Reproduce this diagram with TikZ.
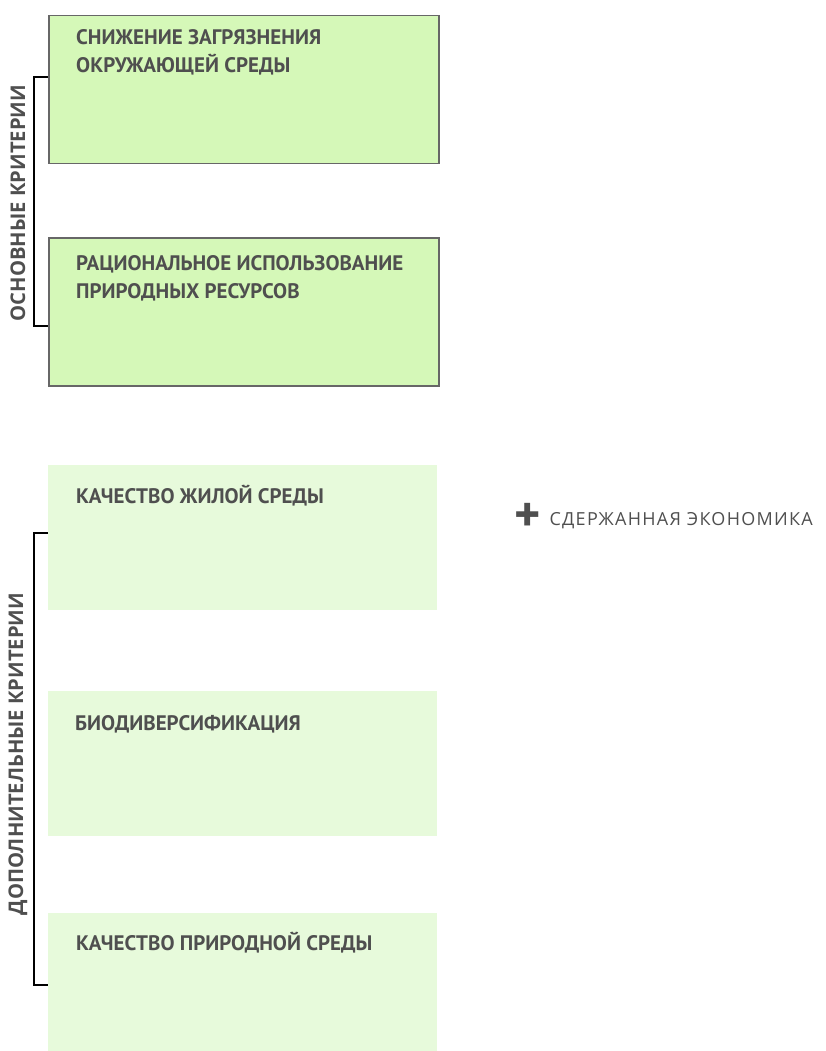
\documentclass[tikz,border=0pt]{standalone}
\usepackage{fontspec}
\setmainfont{Open Sans}
\newfontfamily\boxfont{PT Sans}
\newfontfamily\econfont[LetterSpace=7]{Open Sans}
\usetikzlibrary{positioning,calc}
\definecolor{txtgray}{HTML}{4F4F4F}
\definecolor{rimgray}{HTML}{676767}
\definecolor{maingreen}{HTML}{D5F8B8}
\definecolor{extragreen}{HTML}{E7FADB}
\tikzset{
  mainbox/.style={draw=rimgray,line width=1.5pt,fill=maingreen,anchor=north west,
    minimum width=390pt,minimum height=148pt,inner sep=0pt},
  extrabox/.style={fill=extragreen,anchor=north west,
    minimum width=389pt,minimum height=145pt,inner sep=0pt},
  boxtext/.style={anchor=north west,inner sep=0pt,align=left,text=txtgray,
    font=\boxfont\bfseries\fontsize{21}{28.5}\selectfont},
  sidetext/.style={rotate=90,inner sep=0pt,text=txtgray,
    font=\bfseries\fontsize{20.2}{22}\selectfont},
  bracket/.style={line width=1.6pt,black}
}
\begin{document}
\begin{tikzpicture}[x=1pt,y=-1pt]
    \useasboundingbox (0,0) rectangle (825,1051);

    \node[mainbox] (b1) at (48,15) {};
    \node[mainbox] (b2) at (48,237) {};
    \node[extrabox] (b3) at (48,465) {};
    \node[extrabox] (b4) at (48,691) {};
    \node[extrabox,minimum height=140pt] (b5) at (48,913) {};

    \node[boxtext,below right=14pt and 28pt of b1.north west] (t1) {СНИЖЕНИЕ ЗАГРЯЗНЕНИЯ\\ОКРУЖАЮЩЕЙ СРЕДЫ};
    \node[boxtext,below right=18pt and 28pt of b2.north west] (t2) {РАЦИОНАЛЬНОЕ ИСПОЛЬЗОВАНИЕ\\ПРИРОДНЫХ РЕСУРСОВ};
    \node[boxtext,below right=20pt and 28pt of b3.north west] (t3) {КАЧЕСТВО ЖИЛОЙ СРЕДЫ};
    \node[boxtext,below right=24pt and 27pt of b4.north west] (t4) {БИОДИВЕРСИФИКАЦИЯ};
    \node[boxtext,below right=19pt and 28pt of b5.north west] (t5) {КАЧЕСТВО ПРИРОДНОЙ СРЕДЫ};

    \node[sidetext] (s1) at (18,203) {ОСНОВНЫЕ КРИТЕРИИ};
    \node[sidetext] (s2) at (18,754) {ДОПОЛНИТЕЛЬНЫЕ КРИТЕРИИ};

    \coordinate (k1) at ($(b1.north west)+(0,62)$);
    \coordinate (k2) at ($(b2.north west)+(0,89)$);
    \coordinate (k3) at ($(b3.north west)+(0,68)$);
    \coordinate (k4) at ($(b5.north west)+(0,72)$);
    \draw[bracket] (k1) -- ++(-14,0) |- (k2);
    \draw[bracket,line width=2.2pt] (k3) -- ++(-14,0) |- (k4);

    \node[inner sep=0pt,text=txtgray,font=\boxfont\bfseries\fontsize{50}{50}\selectfont] (plus) at (528,517) {+};
    \node[anchor=west,inner sep=0pt,text=txtgray,font=\econfont\fontsize{18}{18}\selectfont,
      right=8pt of plus,yshift=-4pt] (econ) {СДЕРЖАННАЯ ЭКОНОМИКА};
\end{tikzpicture}
\end{document}
